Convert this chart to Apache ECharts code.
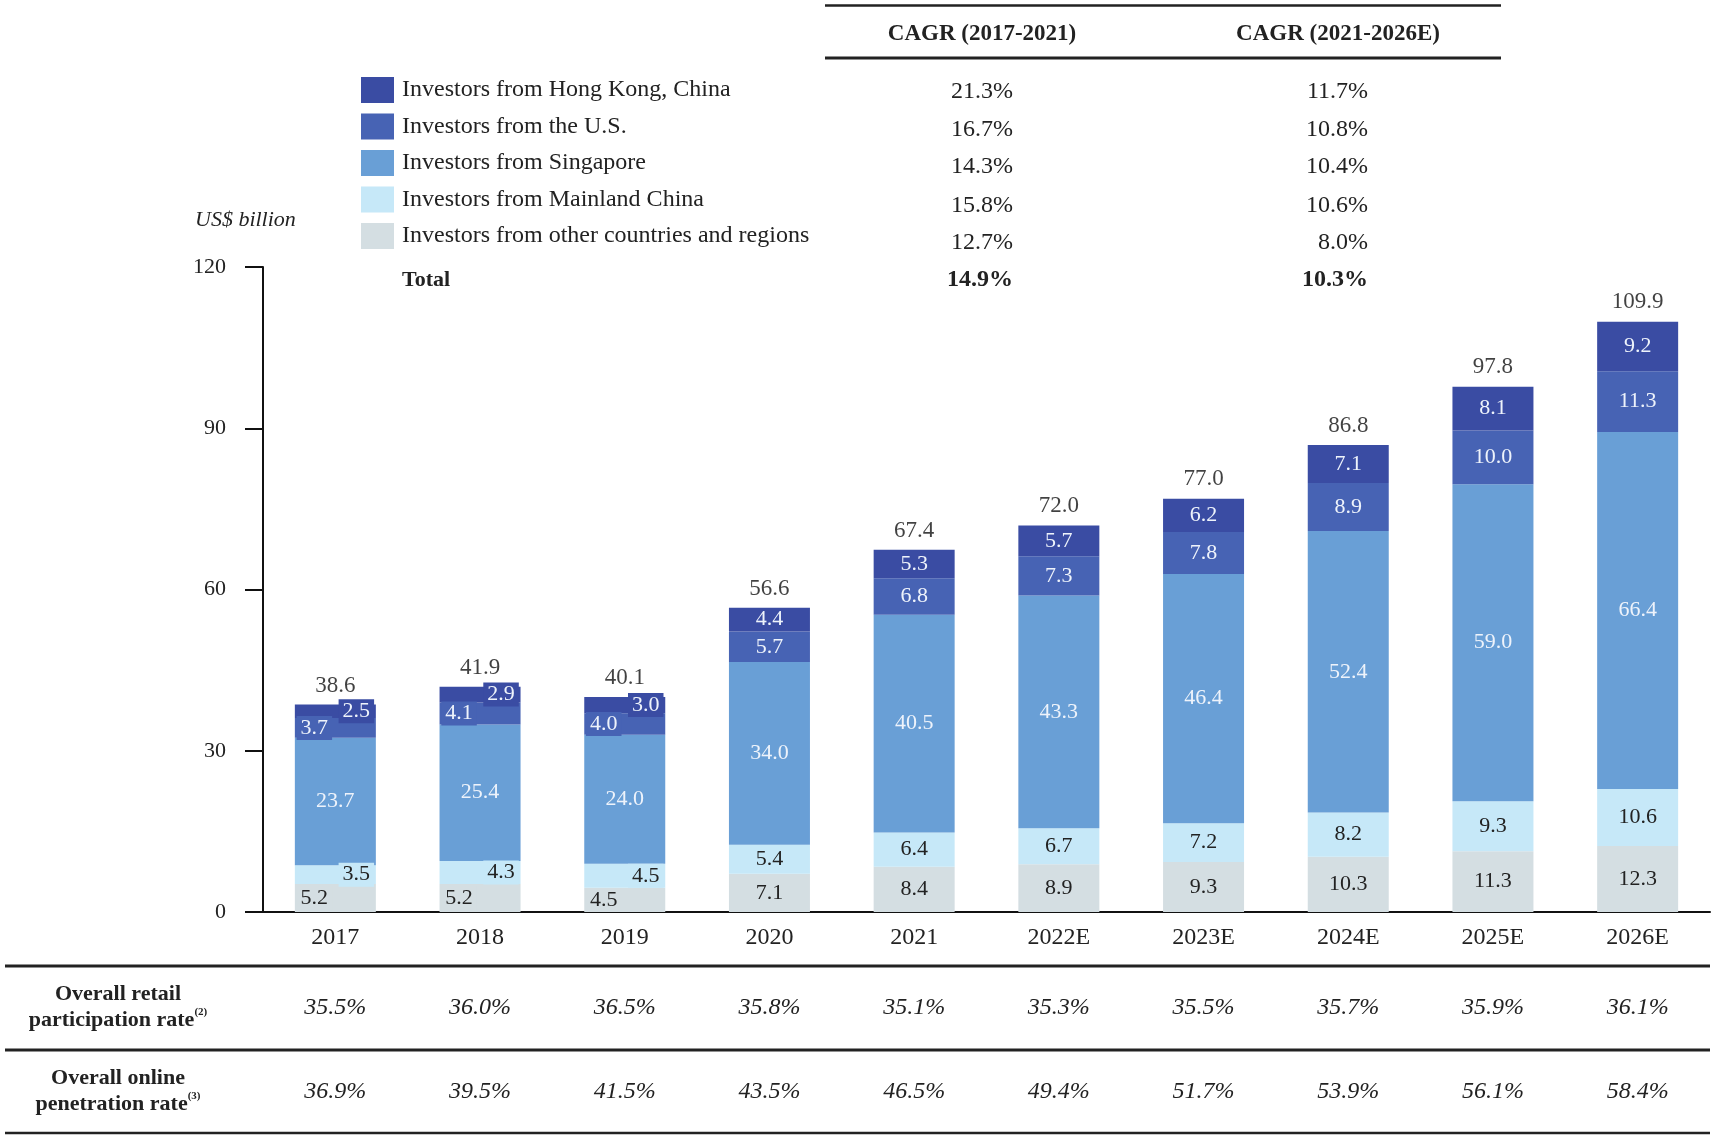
<!DOCTYPE html>
<html><head><meta charset="utf-8">
<script src="https://cdn.jsdelivr.net/npm/echarts@6/dist/echarts.min.js"></script>
<style>html,body{margin:0;padding:0;background:#fff}#c{width:1715px;height:1139px}</style>
</head><body><div id="c"></div>
<script>
const categories = ['2017','2018','2019','2020','2021','2022E','2023E','2024E','2025E','2026E'];
const otherVals = [5.2,5.2,4.5,7.1,8.4,8.9,9.3,10.3,11.3,12.3];
const mainlandVals = [3.5,4.3,4.5,5.4,6.4,6.7,7.2,8.2,9.3,10.6];
const singaporeVals = [23.7,25.4,24.0,34.0,40.5,43.3,46.4,52.4,59.0,66.4];
const usVals = [3.7,4.1,4.0,5.7,6.8,7.3,7.8,8.9,10.0,11.3];
const hkVals = [2.5,2.9,3.0,4.4,5.3,5.7,6.2,7.1,8.1,9.2];
const totals = [38.6,41.9,40.1,56.6,67.4,72.0,77.0,86.8,97.8,109.9];
const seriesNames = ['Investors from Hong Kong, China','Investors from the U.S.','Investors from Singapore','Investors from Mainland China','Investors from other countries and regions'];
const cagr1 = ['21.3%','16.7%','14.3%','15.8%','12.7%','14.9%'];
const cagr2 = ['11.7%','10.8%','10.4%','10.6%','8.0%','10.3%'];
const cagrHeaders = ['CAGR (2017-2021)','CAGR (2021-2026E)'];
const retailRate = ['35.5%','36.0%','36.5%','35.8%','35.1%','35.3%','35.5%','35.7%','35.9%','36.1%'];
const onlineRate = ['36.9%','39.5%','41.5%','43.5%','46.5%','49.4%','51.7%','53.9%','56.1%','58.4%'];
const yTicks = [0,30,60,90,120];

const FONT = "'Liberation Serif','Times New Roman',serif";
const C = {hk:'#3a4ca3', us:'#4763b4', sg:'#699fd6', ml:'#c6e8f8', ot:'#d4dee2'};
const LIGHT_TXT = '#eef3fb', DARK_TXT = '#222';

function makeData(vals, side, bg) {
  return vals.map((v,i) => i < 3 ? {value:v, label:{offset:[side*21,0], backgroundColor:bg, padding:[1,4,1,4]}} : v);
}
function barSeries(name, vals, color, txt, side) {
  return {
    name, type:'bar', stack:'t', barWidth:81, data: side ? makeData(vals, side, color) : vals,
    itemStyle:{color},
    label:{show:true, position:'inside', fontFamily:FONT, fontSize:22, color:txt, formatter:p=>p.value.toFixed(1)}
  };
}

const chart = echarts.init(document.getElementById('c'), null, {renderer:'canvas'});
chart.setOption({
  animation:false,
  backgroundColor:'#fff',
  grid:{left:263, right:5, top:267, bottom:227, containLabel:false},
  legend:{
    data:seriesNames, orient:'vertical', left:356, top:72, itemWidth:33, itemHeight:26, itemGap:10.5,
    icon:'rect', selectedMode:false,
    textStyle:{fontFamily:FONT, fontSize:24, color:'#222', padding:[0,0,0,3]}
  },
  xAxis:{type:'category', data:categories,
    axisLine:{lineStyle:{color:'#111', width:2}}, axisTick:{show:false},
    axisLabel:{fontFamily:FONT, fontSize:24, color:'#222', margin:14}},
  yAxis:{type:'value', min:0, max:120, interval:30,
    axisLine:{show:true, lineStyle:{color:'#111', width:2}},
    axisTick:{show:true, inside:false, length:18, lineStyle:{color:'#111', width:2}},
    splitLine:{show:false},
    axisLabel:{fontFamily:FONT, fontSize:22, color:'#222', margin:37,
      formatter:v => yTicks.includes(v) ? String(v) : ''}},
  series:[
    barSeries(seriesNames[4], otherVals, C.ot, DARK_TXT, -1),
    barSeries(seriesNames[3], mainlandVals, C.ml, DARK_TXT, 1),
    barSeries(seriesNames[2], singaporeVals, C.sg, LIGHT_TXT, 0),
    barSeries(seriesNames[1], usVals, C.us, LIGHT_TXT, -1),
    barSeries(seriesNames[0], hkVals, C.hk, LIGHT_TXT, 1),
    {type:'scatter', data:totals, symbolSize:1, itemStyle:{color:'rgba(0,0,0,0)'}, z:10,
     label:{show:true, position:'top', distance:7, fontFamily:FONT, fontSize:23, color:'#111',
       formatter:p=>p.value.toFixed(1)}}
  ]
});

const g = [];
function line(x1,y1,x2,y2,w){ g.push({type:'line', shape:{x1,y1,x2,y2}, style:{stroke:'#222', lineWidth:w}, silent:true}); }
function text(t,x,y,opts){ g.push({type:'text', x, y, silent:true, style:Object.assign({text:t, fill:'#222', font:`24px ${FONT}`, align:'center', verticalAlign:'middle'}, opts||{})}); }

// top CAGR table
line(825,5.5,1501,5.5,2.5);
line(825,58,1501,58,3);
text(cagrHeaders[0], 982, 34, {font:`bold 23px ${FONT}`});
text(cagrHeaders[1], 1338, 34, {font:`bold 23px ${FONT}`});
const rowY = [92,130,167,206,243,280];
rowY.forEach((y,i) => {
  const b = i === 5 ? 'bold ' : '';
  text(cagr1[i], 1013, y, {align:'right', font:`${b}24px ${FONT}`});
  text(cagr2[i], 1368, y, {align:'right', font:`${b}24px ${FONT}`});
});
text('Total', 402, 280, {align:'left', font:`bold 22px ${FONT}`});
text('US$ billion', 195, 220, {align:'left', font:`italic 22px ${FONT}`});
// x-axis extension to left
line(249,912,263,912,2);

// bottom table
line(5,966,1710,966,3);
line(5,1050,1710,1050,3);
line(5,1133,1710,1133,2.5);
const richRow = {n:{font:`bold 22px ${FONT}`, fill:'#222'}, s:{font:`bold 11px ${FONT}`, fill:'#222', verticalAlign:'top', padding:[0,0,10,0]}};
g.push({type:'text', x:118, y:1007, silent:true, style:{text:'{n|Overall retail}\n{n|participation rate}{s|(2)}', align:'center', verticalAlign:'middle', lineHeight:26, rich:richRow}});
g.push({type:'text', x:118, y:1091, silent:true, style:{text:'{n|Overall online}\n{n|penetration rate}{s|(3)}', align:'center', verticalAlign:'middle', lineHeight:26, rich:richRow}});
categories.forEach((c,i) => {
  const x = chart.convertToPixel({xAxisIndex:0}, c);
  text(retailRate[i], x, 1008, {font:`italic 24px ${FONT}`});
  text(onlineRate[i], x, 1092, {font:`italic 24px ${FONT}`});
});
chart.setOption({graphic:g});
</script></body></html>
